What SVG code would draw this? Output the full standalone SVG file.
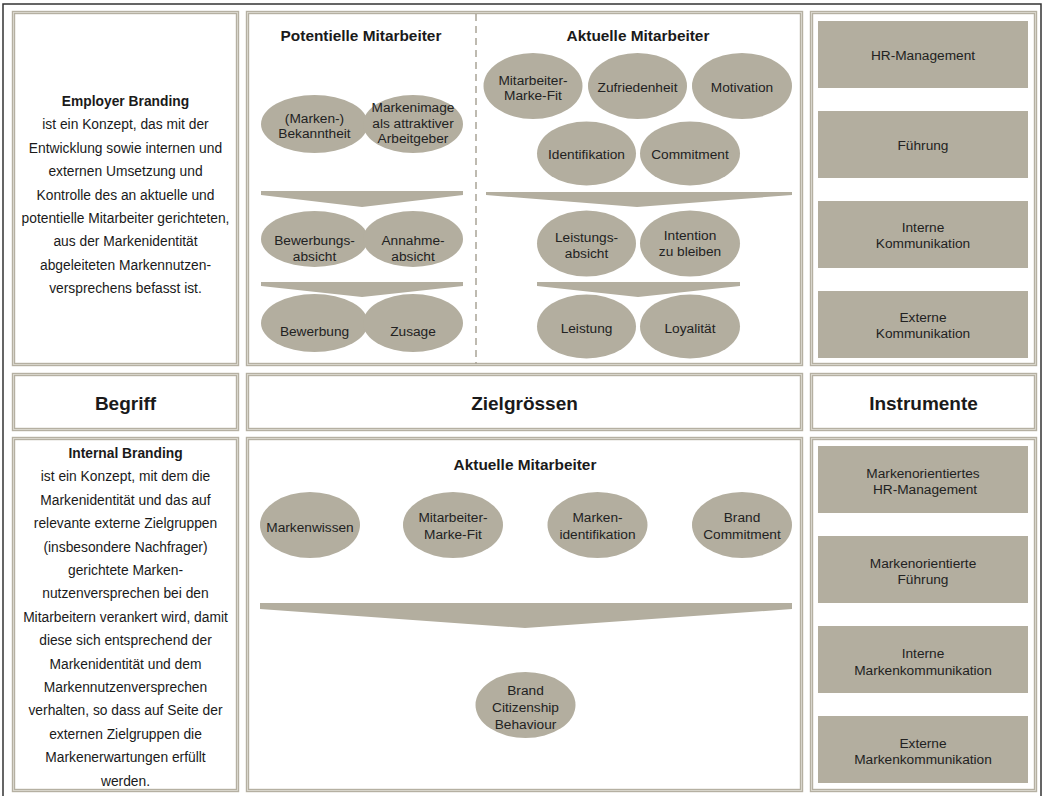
<svg xmlns="http://www.w3.org/2000/svg" width="1045" height="796" viewBox="0 0 1045 796">
<style>
.panel{fill:#fff;stroke:#b5b0a2;stroke-width:3.4}
.inner{fill:none;stroke:#dcd9d0;stroke-width:0.9}
.bub{fill:#b3ae9f}
.box{fill:#b3ae9f}
.chev{fill:#b3ae9f}
text{font-family:"Liberation Sans",Arial,Helvetica,sans-serif;fill:#1a1a1a;text-anchor:middle}
.body{font-size:13.8px}
.bodyb{font-size:13.8px;font-weight:bold}
.title{font-size:15.4px;font-weight:bold}
.head{font-size:19px;font-weight:bold}
.bt{font-size:13.7px;fill:#222}
.rt{font-size:13.7px;fill:#222}
</style>
<rect width="1045" height="796" fill="#fff"/>
<path d="M3,796 V4 H1041 V796" fill="none" stroke="#333" stroke-width="1.5"/>

<g id="panels">
<rect class="panel" x="13.5" y="12.5" width="224" height="352"/>
<rect class="panel" x="247.5" y="12.5" width="554" height="352"/>
<rect class="panel" x="811.5" y="12.5" width="224" height="352"/>
<rect class="panel" x="13.5" y="374.5" width="224" height="55"/>
<rect class="panel" x="247.5" y="374.5" width="554" height="55"/>
<rect class="panel" x="811.5" y="374.5" width="224" height="55"/>
<rect class="panel" x="13.5" y="438.5" width="224" height="352"/>
<rect class="panel" x="247.5" y="438.5" width="554" height="352"/>
<rect class="panel" x="811.5" y="438.5" width="224" height="352"/>
<rect class="inner" x="13.5" y="12.5" width="224" height="352"/>
<rect class="inner" x="247.5" y="12.5" width="554" height="352"/>
<rect class="inner" x="811.5" y="12.5" width="224" height="352"/>
<rect class="inner" x="13.5" y="374.5" width="224" height="55"/>
<rect class="inner" x="247.5" y="374.5" width="554" height="55"/>
<rect class="inner" x="811.5" y="374.5" width="224" height="55"/>
<rect class="inner" x="13.5" y="438.5" width="224" height="352"/>
<rect class="inner" x="247.5" y="438.5" width="554" height="352"/>
<rect class="inner" x="811.5" y="438.5" width="224" height="352"/>
<line x1="476" y1="14" x2="476" y2="364" stroke="#a9a496" stroke-width="1.5" stroke-dasharray="7,5"/>
</g>

<g id="headers">
<text class="head" x="125.5" y="410">Begriff</text>
<text class="head" x="524.5" y="410">Zielgrössen</text>
<text class="head" x="923.5" y="410">Instrumente</text>
</g>

<g id="employer-branding">
<text class="bodyb" x="125.5" y="106">Employer Branding</text>
<text class="body" x="125.5" y="129.4">ist ein Konzept, das mit der</text>
<text class="body" x="125.5" y="152.8">Entwicklung sowie internen und</text>
<text class="body" x="125.5" y="176.2">externen Umsetzung und</text>
<text class="body" x="125.5" y="199.6">Kontrolle des an aktuelle und</text>
<text class="body" x="125.5" y="223">potentielle Mitarbeiter gerichteten,</text>
<text class="body" x="125.5" y="246.4">aus der Markenidentität</text>
<text class="body" x="125.5" y="269.8">abgeleiteten Markennutzen-</text>
<text class="body" x="125.5" y="293.2">versprechens befasst ist.</text>
</g>

<g id="internal-branding">
<text class="bodyb" x="125.5" y="458">Internal Branding</text>
<text class="body" x="125.5" y="481.4">ist ein Konzept, mit dem die</text>
<text class="body" x="125.5" y="504.8">Markenidentität und das auf</text>
<text class="body" x="125.5" y="528.2">relevante externe Zielgruppen</text>
<text class="body" x="125.5" y="551.6">(insbesondere Nachfrager)</text>
<text class="body" x="125.5" y="575">gerichtete Marken-</text>
<text class="body" x="125.5" y="598.4">nutzenversprechen bei den</text>
<text class="body" x="125.5" y="621.8">Mitarbeitern verankert wird, damit</text>
<text class="body" x="125.5" y="645.2">diese sich entsprechend der</text>
<text class="body" x="125.5" y="668.6">Markenidentität und dem</text>
<text class="body" x="125.5" y="692">Markennutzenversprechen</text>
<text class="body" x="125.5" y="715.4">verhalten, so dass auf Seite der</text>
<text class="body" x="125.5" y="738.8">externen Zielgruppen die</text>
<text class="body" x="125.5" y="762.2">Markenerwartungen erfüllt</text>
<text class="body" x="125.5" y="785.6">werden.</text>
</g>

<g id="potentielle">
<text class="title" x="361" y="41">Potentielle Mitarbeiter</text>
<g id="n-bekanntheit"><ellipse class="bub" cx="314.5" cy="124" rx="53.5" ry="29"/>
<text class="bt" x="314.5" y="123">(Marken-)</text><text class="bt" x="314.5" y="137.5">Bekanntheit</text></g>
<g id="n-markenimage"><ellipse class="bub" cx="413" cy="124" rx="50" ry="29"/>
<text class="bt" x="413" y="112">Markenimage</text><text class="bt" x="413" y="127.5">als attraktiver</text><text class="bt" x="413" y="143">Arbeitgeber</text></g>
<g id="n-bewerbungsabsicht"><ellipse class="bub" cx="314.5" cy="239" rx="53.5" ry="28"/>
<text class="bt" x="314.5" y="244.5">Bewerbungs-</text><text class="bt" x="314.5" y="261">absicht</text></g>
<g id="n-annahmeabsicht"><ellipse class="bub" cx="413" cy="239" rx="50" ry="28"/>
<text class="bt" x="413" y="244.5">Annahme-</text><text class="bt" x="413" y="261">absicht</text></g>
<g id="n-bewerbung"><ellipse class="bub" cx="314.5" cy="323" rx="53.5" ry="29"/>
<text class="bt" x="314.5" y="335.5">Bewerbung</text></g>
<g id="n-zusage"><ellipse class="bub" cx="413" cy="323" rx="50" ry="29"/>
<text class="bt" x="413" y="335.5">Zusage</text></g>
</g>

<g id="aktuelle-top">
<text class="title" x="638" y="41">Aktuelle Mitarbeiter</text>
<g id="n-fit1"><ellipse class="bub" cx="533" cy="86" rx="49.5" ry="33"/>
<text class="bt" x="533" y="85">Mitarbeiter-</text><text class="bt" x="533" y="100">Marke-Fit</text></g>
<g id="n-zufriedenheit"><ellipse class="bub" cx="637.5" cy="86" rx="49.5" ry="33"/>
<text class="bt" x="637.5" y="92">Zufriedenheit</text></g>
<g id="n-motivation"><ellipse class="bub" cx="742" cy="86" rx="50" ry="33"/>
<text class="bt" x="742" y="92">Motivation</text></g>
<g id="n-identifikation"><ellipse class="bub" cx="586.5" cy="153.5" rx="49.5" ry="32"/>
<text class="bt" x="586.5" y="159">Identifikation</text></g>
<g id="n-commitment"><ellipse class="bub" cx="690" cy="153.5" rx="50" ry="32"/>
<text class="bt" x="690" y="159">Commitment</text></g>
<g id="n-leistungsabsicht"><ellipse class="bub" cx="586.5" cy="243.5" rx="49.5" ry="33"/>
<text class="bt" x="586.5" y="242">Leistungs-</text><text class="bt" x="586.5" y="258">absicht</text></g>
<g id="n-intention"><ellipse class="bub" cx="690" cy="243.5" rx="50" ry="33"/>
<text class="bt" x="690" y="240">Intention</text><text class="bt" x="690" y="255.5">zu bleiben</text></g>
<g id="n-leistung"><ellipse class="bub" cx="586.5" cy="326.5" rx="49.5" ry="32"/>
<text class="bt" x="586.5" y="333">Leistung</text></g>
<g id="n-loyalitaet"><ellipse class="bub" cx="690" cy="326.5" rx="50" ry="32"/>
<text class="bt" x="690" y="333">Loyalität</text></g>
</g>

<g id="aktuelle-bottom">
<text class="title" x="525" y="470">Aktuelle Mitarbeiter</text>
<g id="n-markenwissen"><ellipse class="bub" cx="310" cy="525" rx="50" ry="33"/>
<text class="bt" x="310" y="532">Markenwissen</text></g>
<g id="n-fit2"><ellipse class="bub" cx="453" cy="525" rx="50" ry="33"/>
<text class="bt" x="453" y="522">Mitarbeiter-</text><text class="bt" x="453" y="539">Marke-Fit</text></g>
<g id="n-markenidentifikation"><ellipse class="bub" cx="597.5" cy="525" rx="50" ry="33"/>
<text class="bt" x="597.5" y="522">Marken-</text><text class="bt" x="597.5" y="539">identifikation</text></g>
<g id="n-brandcommitment"><ellipse class="bub" cx="742" cy="525" rx="50" ry="33"/>
<text class="bt" x="742" y="522">Brand</text><text class="bt" x="742" y="539">Commitment</text></g>
<g id="n-bcb"><ellipse class="bub" cx="525.5" cy="705" rx="50" ry="33"/>
<text class="bt" x="525.5" y="695">Brand</text><text class="bt" x="525.5" y="712">Citizenship</text><text class="bt" x="525.5" y="728.5">Behaviour</text></g>
</g>

<g id="connectors">
<polygon class="chev" points="261,191 463,191 463,195 362,207 261,195"/>
<polygon class="chev" points="261,282 463,282 463,286 362,297 261,286"/>
<polygon class="chev" points="486,192 792,192 792,195 637,207 486,195"/>
<polygon class="chev" points="537,282 740,282 740,286 638,297 537,286"/>
<polygon class="chev" points="260,603 792,603 792,609 525,628 260,609"/>
</g>

<g id="instrumente-top">
<g id="i-hr"><rect class="box" x="818" y="21" width="210" height="67"/><text class="rt" x="923" y="60">HR-Management</text></g>
<g id="i-fuehrung"><rect class="box" x="818" y="111" width="210" height="67"/><text class="rt" x="923" y="150">Führung</text></g>
<g id="i-intern"><rect class="box" x="818" y="201" width="210" height="67"/><text class="rt" x="923" y="232">Interne</text><text class="rt" x="923" y="248">Kommunikation</text></g>
<g id="i-extern"><rect class="box" x="818" y="291" width="210" height="67"/><text class="rt" x="923" y="322">Externe</text><text class="rt" x="923" y="338">Kommunikation</text></g>
</g>

<g id="instrumente-bottom">
<g id="i-mhr"><rect class="box" x="818" y="446" width="210" height="67"/><text class="rt" x="923" y="478">Markenorientiertes</text><text class="rt" x="925" y="494">HR-Management</text></g>
<g id="i-mfuehrung"><rect class="box" x="818" y="536" width="210" height="67"/><text class="rt" x="923" y="568">Markenorientierte</text><text class="rt" x="923" y="584">Führung</text></g>
<g id="i-mintern"><rect class="box" x="818" y="626" width="210" height="67"/><text class="rt" x="923" y="658">Interne</text><text class="rt" x="923" y="675">Markenkommunikation</text></g>
<g id="i-mextern"><rect class="box" x="818" y="716" width="210" height="67"/><text class="rt" x="923" y="748">Externe</text><text class="rt" x="923" y="764">Markenkommunikation</text></g>
</g>
</svg>
